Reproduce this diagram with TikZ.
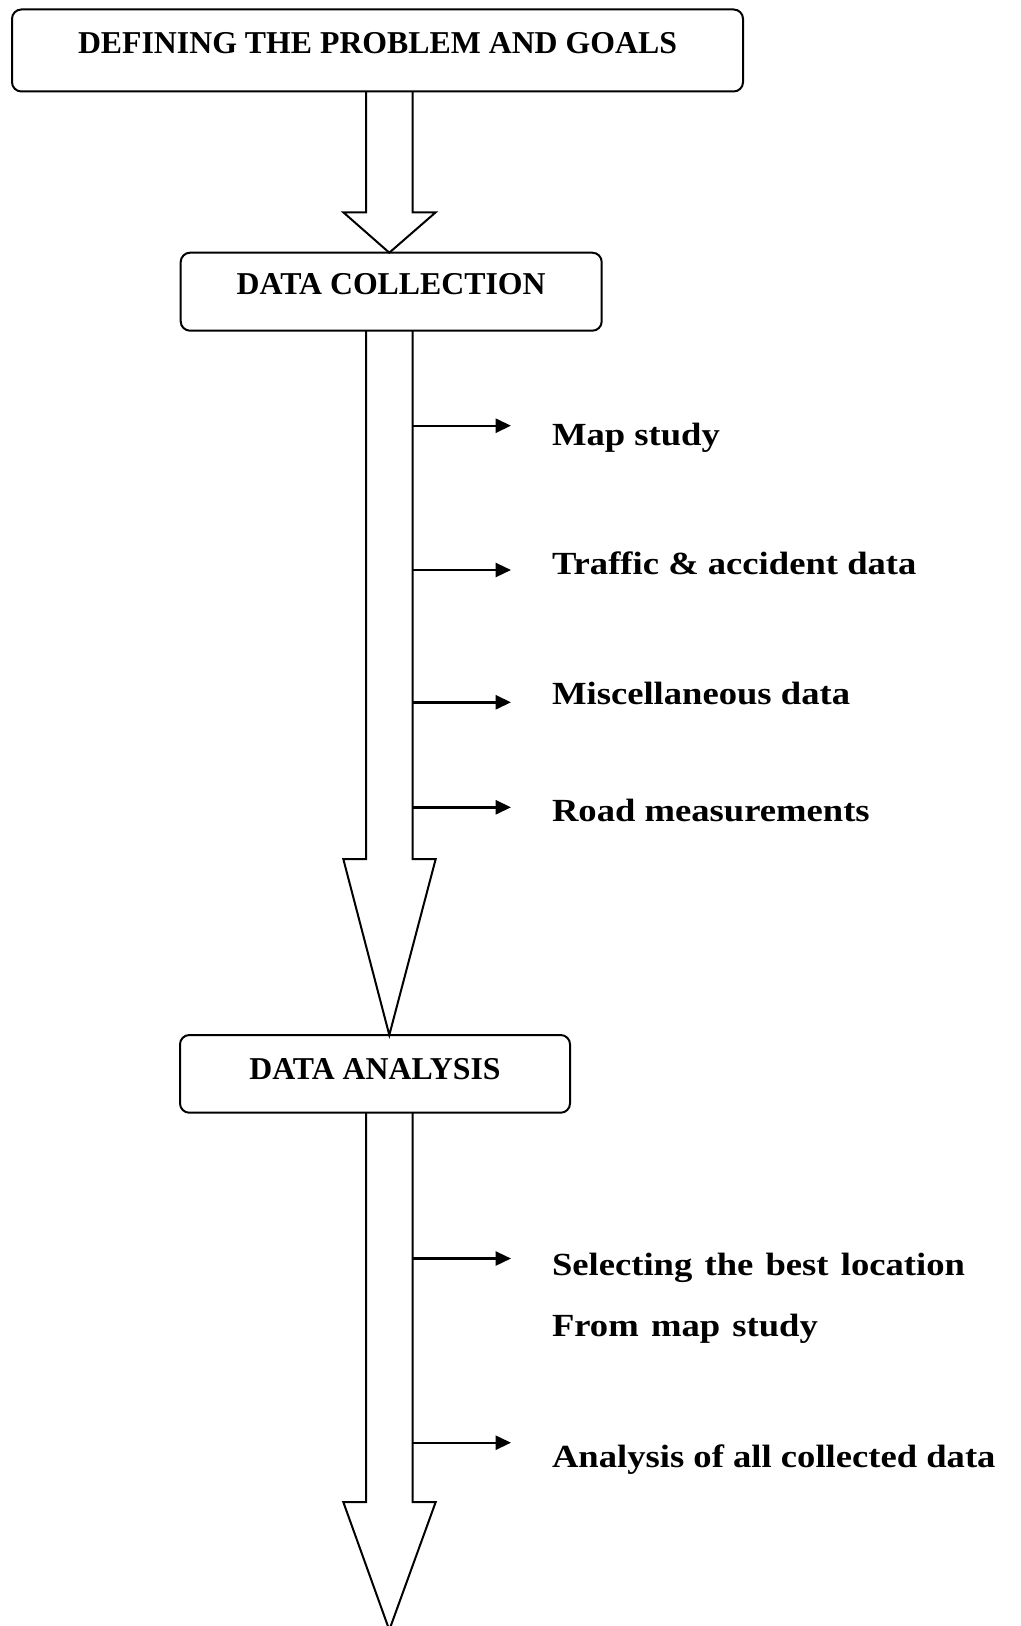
\documentclass[tikz,border=0pt]{standalone}
\usepackage{graphicx}
\usepackage{fontspec}
\setmainfont{Liberation Serif}
\usetikzlibrary{arrows.meta}
\newcommand\stretchtxt[1]{\scalebox{1.135}[1]{#1}}
\begin{document}
\begin{tikzpicture}[x=0.75pt,y=-0.75pt,
  box/.style={draw,line width=1.5pt,rounded corners=7pt,inner sep=0pt,outer sep=0pt,anchor=north,
    font=\fontsize{23.85}{28}\selectfont\bfseries},
  blockarrow/.style={draw,line width=1.5pt,line join=miter},
  sidearr/.style={line width=1.8pt,-{Triangle[length=11.5pt,width=10.5pt]},shorten >=30.75pt},
  side/.style={anchor=base west,inner sep=0pt,outer sep=0pt,
    font=\fontsize{24.2}{45.75}\selectfont\bfseries}]
\useasboundingbox (0,0) rectangle (1020,1626);
\fill[white] (0,0) rectangle (1020,1626);

% boxes
\node[box,minimum width=548.25pt,minimum height=61.5pt,text height=32.85pt,text depth=28.65pt] (b1) at (377.5,9.5) {DEFINING THE PROBLEM AND GOALS};
\node[box,minimum width=315.75pt,minimum height=58.5pt,text height=31.7pt,text depth=26.8pt] (b2) at (391.2,252.7) {DATA COLLECTION};
\node[box,minimum width=292.5pt,minimum height=58.3pt,text height=33.2pt,text depth=25.1pt] (b3) at (375,1035) {DATA ANALYSIS};

% guide coordinates for the block arrows
\coordinate (sl) at (366,0);
\coordinate (sr) at (412.5,0);
\coordinate (hl) at (343.3,0);
\coordinate (hr) at (435.7,0);
\coordinate (ax) at (389.3,0);
\coordinate (h1) at (0,212.3);
\coordinate (h2) at (0,859);
\coordinate (h3) at (0,1502);
\coordinate (tipend) at (389.3,1630);

% block arrows
\draw[blockarrow] (b1.south -| sl) -- (h1 -| sl) -- (h1 -| hl) -- (b2.north -| ax) -- (h1 -| hr) -- (h1 -| sr) -- (b1.south -| sr);
\draw[blockarrow] (b2.south -| sl) -- (h2 -| sl) -- (h2 -| hl) -- (b3.north -| ax) -- (h2 -| hr) -- (h2 -| sr) -- (b2.south -| sr);
\draw[blockarrow] (b3.south -| sl) -- (h3 -| sl) -- (h3 -| hl) -- (tipend) -- (h3 -| hr) -- (h3 -| sr) -- (b3.south -| sr);

% side labels
\node[side] (t1) at (552,445) {\stretchtxt{Map study}};
\node[side] (t2) at (552,574) {\stretchtxt{Traffic \& accident data}};
\node[side] (t3) at (552,704) {\stretchtxt{Miscellaneous data}};
\node[side] (t4) at (552,821.5) {\stretchtxt{Road measurements}};
\node[side,text width=450pt,align=left] (t5) at (552,1275) {\stretchtxt{Selecting the best location}\\\stretchtxt{From map study}};
\node[side] (t6) at (552,1467) {\stretchtxt{Analysis of all collected data}};

% side arrow starts on the shaft
\coordinate (a1) at (412.5,425.7);
\coordinate (a2) at (412.5,570);
\coordinate (a3) at (412.5,702.3);
\coordinate (a4) at (412.5,807.3);
\coordinate (a5) at (412.5,1258.5);
\coordinate (a6) at (412.5,1442.7);

\draw[sidearr] (a1) -- (a1 -| t1.west);
\draw[sidearr] (a2) -- (a2 -| t2.west);
\draw[sidearr] (a3) -- (a3 -| t3.west);
\draw[sidearr] (a4) -- (a4 -| t4.west);
\draw[sidearr] (a5) -- (a5 -| t5.west);
\draw[sidearr] (a6) -- (a6 -| t6.west);
\end{tikzpicture}
\end{document}
